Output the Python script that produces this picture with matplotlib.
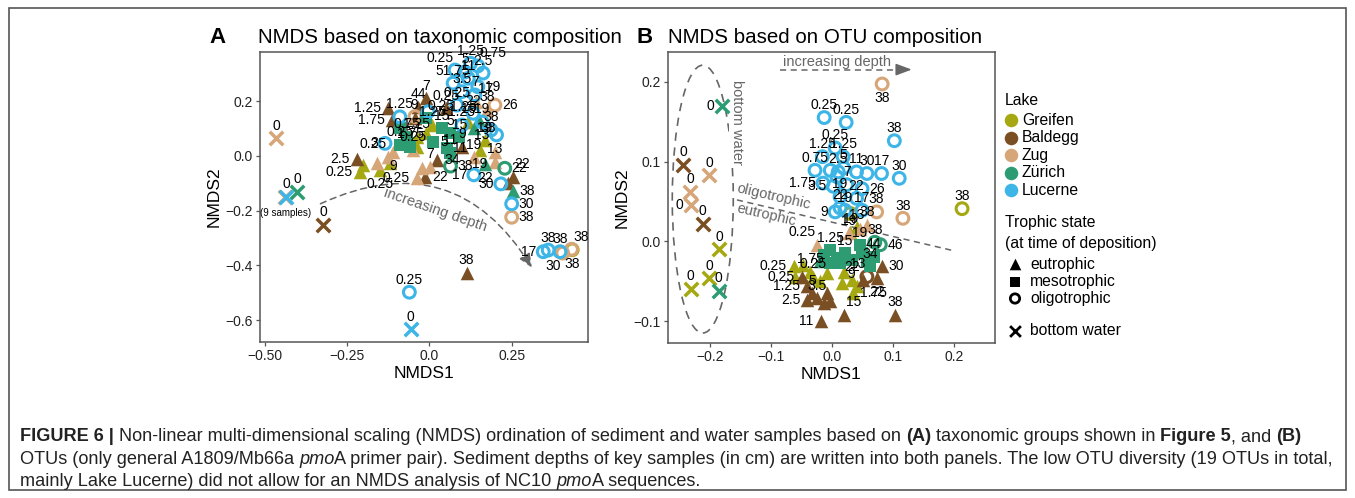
import matplotlib
matplotlib.use('Agg')
import matplotlib.pyplot as plt
from matplotlib.patches import Ellipse, FancyArrowPatch, Rectangle

plt.rcParams['font.family'] = ['Liberation Sans', 'DejaVu Sans']

W, H = 1355, 498

lake_names = ['Greifen', 'Baldegg', 'Zug', 'Zürich', 'Lucerne']
lake_colors = ['#A6A812', '#7A4F24', '#D6A679', '#2E9C72', '#3DB5E6']

# each point: trophic state (e/m/o, w = bottom water), NMDS1, NMDS2, depth label, label side
a_greifen = [
    ('e', -0.201, -0.033, '', 't'), ('e', -0.211, -0.057, '0.25', 'l'),
    ('e', -0.150, -0.051, '0.25', 'b'), ('e', -0.120, -0.026, '', 't'),
    ('e', -0.039, 0.071, '1.25', 't'), ('e', -0.009, 0.083, '', 't'),
    ('e', 0.008, 0.113, '1.25', 't'), ('e', 0.118, 0.125, '19', 't'),
    ('e', 0.169, 0.058, '19', 't'), ('e', 0.154, 0.022, '19', 'b'),
    ('e', -0.039, 0.034, '', 't'), ('o', 0.434, -0.343, '38', 'b'),
]
a_baldegg = [
    ('w', -0.323, -0.252, '0', 't'), ('e', 0.113, -0.427, '38', 't'),
    ('e', -0.221, -0.012, '2.5', 'l'), ('e', -0.115, 0.132, '1.75', 'l'),
    ('e', -0.126, 0.175, '1.25', 'l'), ('e', -0.009, 0.211, '7', 't'),
    ('e', -0.034, 0.180, '44', 't'), ('e', 0.023, -0.015, '34', 'r'),
    ('e', -0.014, -0.076, '22', 'r'), ('e', 0.100, 0.034, '9', 't'),
    ('e', 0.050, 0.175, '0.25', 't'), ('e', 0.253, -0.076, '22', 'tr'),
    ('e', 0.240, -0.100, '', 't'), ('e', -0.045, 0.140, '9', 't'),
]
a_zug = [
    ('w', -0.466, 0.065, '0', 't'), ('w', -0.440, -0.150, '', 't'),
    ('o', 0.405, -0.355, '30', 'bl'), ('o', 0.432, -0.341, '38', 'tr'),
    ('o', 0.250, -0.224, '38', 'r'), ('o', 0.199, 0.186, '26', 'r'),
    ('o', -0.044, 0.144, '', 't'), ('e', -0.160, -0.024, '', 't'),
    ('e', -0.125, -0.003, '0.25', 'tl'), ('e', -0.111, 0.015, '9', 'b'),
    ('e', -0.049, 0.022, '0.25', 't'), ('e', 0.002, -0.039, '7', 't'),
    ('e', -0.039, -0.082, '0.25', 'l'), ('e', -0.023, -0.044, '', 't'),
    ('e', 0.143, 0.199, '17', 'tr'), ('e', 0.175, 0.168, '38', 't'),
    ('e', 0.135, -0.005, '19', 't'), ('e', 0.199, -0.021, '13', 't'),
    ('e', 0.200, 0.015, '', 't'),
]
a_zurich = [
    ('w', -0.402, -0.130, '0', 't'), ('m', -0.090, 0.101, '', 't'),
    ('m', -0.069, 0.071, '0.75', 't'), ('m', -0.090, 0.040, '0.25', 't'),
    ('m', -0.059, 0.034, '1.75', 't'), ('m', -0.009, 0.138, '0.25', 'tr'),
    ('m', 0.012, 0.052, '5', 'r'), ('m', 0.052, 0.028, '11', 'r'),
    ('m', 0.062, 0.083, '5', 't'), ('m', 0.091, 0.068, '15', 't'),
    ('m', 0.062, 0.012, '11', 't'), ('m', 0.038, 0.102, '15', 't'),
    ('o', 0.064, -0.037, '38', 'r'), ('e', 0.135, 0.101, '38', 'r'),
    ('e', 0.169, -0.029, '22', 'b'), ('o', 0.229, -0.045, '22', 'r'),
    ('e', 0.253, -0.127, '38', 'r'), ('e', 0.150, 0.132, '1.25', 'tl'),
]
a_lucerne = [
    ('w', -0.436, -0.149, '0', 't'), ('o', -0.061, -0.498, '0.25', 't'),
    ('w', -0.057, -0.634, '0', 't'), ('o', 0.346, -0.350, '17', 'l'),
    ('o', 0.361, -0.344, '38', 't'), ('o', 0.397, -0.350, '38', 't'),
    ('o', 0.250, -0.175, '30', 'r'), ('o', 0.217, -0.102, '30', 'l'),
    ('o', 0.135, -0.069, '17', 'l'), ('o', 0.204, 0.077, '13', 'l'),
    ('o', 0.187, 0.095, '38', 't'), ('o', -0.135, 0.046, '3', 'l'),
    ('o', -0.090, 0.143, '1.25', 't'), ('o', -0.004, 0.162, '7', 'r'),
    ('o', 0.125, 0.339, '1.25', 't'), ('o', 0.147, 0.329, '0.75', 'tr'),
    ('o', 0.078, 0.314, '0.25', 'tl'), ('o', 0.108, 0.307, '5', 't'),
    ('o', 0.163, 0.303, '2.5', 't'), ('o', 0.072, 0.266, '51.75', 't'),
    ('o', 0.118, 0.284, '11', 't'), ('o', 0.147, 0.253, '19', 'r'),
    ('o', 0.098, 0.235, '3.5', 't'), ('o', 0.138, 0.223, '7', 't'),
    ('o', 0.083, 0.186, '0.25', 't'), ('o', 0.133, 0.156, '22', 't'),
    ('o', 0.099, 0.113, '1.25', 't'), ('o', 0.160, 0.124, '19', 't'),
]

b_greifen = [
    ('w', -0.185, -0.010, '0', 't'), ('w', -0.201, -0.046, '0', 't'),
    ('w', -0.232, -0.059, '0', 't'), ('o', 0.213, 0.041, '38', 't'),
    ('o', 0.030, 0.035, '', 't'), ('e', 0.040, 0.018, '13', 't'),
    ('e', -0.063, -0.031, '0.25', 'l'), ('e', -0.047, -0.029, '', 't'),
    ('e', -0.036, -0.038, '1.75', 't'), ('e', -0.061, -0.044, '', 't'),
    ('e', -0.031, -0.044, '0.25', 't'), ('e', -0.009, -0.040, '', 't'),
    ('e', 0.019, -0.038, '', 't'), ('e', 0.032, -0.048, '22', 't'),
    ('e', 0.040, -0.056, '', 't'), ('e', 0.016, -0.052, '', 't'),
    ('e', -0.020, -0.050, '', 't'), ('e', 0.035, -0.065, '1.75', 'r'),
    ('e', 0.030, 0.012, '19', 't'),
]
b_baldegg = [
    ('w', -0.244, 0.096, '0', 't'), ('w', -0.212, 0.022, '0', 't'),
    ('e', -0.050, -0.044, '0.25', 'l'), ('e', -0.041, -0.056, '1.25', 'l'),
    ('e', -0.033, -0.065, '5', 't'), ('e', -0.041, -0.073, '2.5', 'l'),
    ('e', -0.025, -0.071, '3.5', 't'), ('e', -0.009, -0.065, '', 't'),
    ('e', -0.003, -0.075, '', 't'), ('e', -0.014, -0.077, '', 't'),
    ('e', -0.019, -0.099, '11', 'l'), ('e', 0.020, -0.092, '15', 'tr'),
    ('e', 0.051, -0.048, '', 't'), ('e', 0.074, -0.046, '22', 'b'),
    ('e', 0.081, -0.031, '30', 'r'), ('e', 0.103, -0.092, '38', 't'),
    ('o', 0.057, -0.044, '13', 'tl'),
]
b_zug = [
    ('w', -0.201, 0.083, '0', 't'), ('w', -0.233, 0.062, '0', 't'),
    ('w', -0.232, 0.045, '0', 'l'), ('o', 0.082, 0.197, '38', 'b'),
    ('o', 0.073, 0.037, '38', 't'), ('o', 0.116, 0.029, '38', 't'),
    ('e', 0.057, 0.021, '38', 't'), ('e', 0.027, 0.010, '19', 't'),
    ('e', -0.025, -0.004, '0.25', 'tl'), ('e', 0.045, 0.015, '', 't'),
]
b_zurich = [
    ('w', -0.181, 0.169, '0', 'l'), ('w', -0.186, -0.062, '0', 't'),
    ('o', 0.079, -0.004, '46', 'r'), ('o', 0.070, -0.001, '38', 't'),
    ('m', -0.014, -0.017, '', 't'), ('m', -0.003, -0.011, '1.25', 't'),
    ('m', 0.008, -0.021, '', 't'), ('m', 0.021, -0.015, '15', 't'),
    ('m', 0.032, -0.023, '9', 'b'), ('m', 0.049, -0.015, '', 't'),
    ('m', 0.057, -0.025, '', 't'), ('m', 0.062, -0.031, '34', 't'),
    ('m', -0.003, -0.027, '', 't'), ('m', 0.013, -0.027, '', 't'),
    ('m', 0.068, -0.019, '44', 't'), ('m', 0.045, -0.005, '19', 't'),
    ('e', -0.020, -0.025, '', 't'),
]
b_lucerne = [
    ('o', -0.013, 0.155, '0.25', 't'), ('o', 0.023, 0.149, '0.25', 't'),
    ('o', 0.102, 0.126, '38', 't'), ('o', 0.110, 0.079, '30', 't'),
    ('o', 0.081, 0.085, '17', 't'), ('o', 0.005, 0.117, '0.25', 't'),
    ('o', -0.016, 0.106, '1.25', 't'), ('o', 0.018, 0.106, '1.25', 't'),
    ('o', -0.028, 0.089, '0.75', 't'), ('o', 0.010, 0.087, '2.5', 't'),
    ('o', -0.003, 0.089, '', 't'), ('o', 0.019, 0.092, '5', 't'),
    ('o', 0.040, 0.087, '11', 't'), ('o', 0.057, 0.085, '30', 't'),
    ('o', -0.015, 0.073, '1.75', 'l'), ('o', 0.008, 0.081, '', 't'),
    ('o', 0.002, 0.069, '3.5', 'l'), ('o', 0.024, 0.071, '7', 't'),
    ('o', 0.013, 0.056, '19', 't'), ('o', 0.049, 0.066, '26', 'r'),
    ('o', 0.040, 0.054, '22', 't'), ('o', 0.013, 0.042, '22', 't'),
    ('o', 0.005, 0.037, '9', 'l'), ('o', 0.021, 0.039, '19', 't'),
    ('o', 0.049, 0.039, '17', 't'),
]

panel_a = [a_greifen, a_baldegg, a_zug, a_zurich, a_lucerne]
panel_b = [b_greifen, b_baldegg, b_zug, b_zurich, b_lucerne]

a_xticks = [-0.5, -0.25, 0.0, 0.25]
a_xlabels = ['\u22120.50', '\u22120.25', '0.0', '0.25']
a_yticks = [0.2, 0.0, -0.2, -0.4, -0.6]
a_ylabels = ['0.2', '0.0', '\u22120.2', '\u22120.4', '\u22120.6']
b_xticks = [-0.2, -0.1, 0.0, 0.1, 0.2]
b_xlabels = ['\u22120.2', '\u22120.1', '0.0', '0.1', '0.2']
b_yticks = [0.2, 0.1, 0.0, -0.1]
b_ylabels = ['0.2', '0.1', '0.0', '\u22120.1']

OFFS = {'t': (0, 4, 'center', 'bottom'), 'b': (0, -5, 'center', 'top'),
        'l': (-5, 0, 'right', 'center'), 'r': (5, 0, 'left', 'center'),
        'tl': (-1, 4, 'right', 'bottom'), 'tr': (1, 4, 'left', 'bottom'),
        'bl': (-1, -4, 'right', 'top')}
GREY = '#666666'


def draw_panel(ax, groups):
    for pts, col in zip(groups, lake_colors):
        for st, x, y, lab, side in pts:
            if st == 'o':
                ax.scatter([x], [y], marker='o', s=72, facecolors='none',
                           edgecolors=col, linewidths=2.2, zorder=3)
            elif st == 'w':
                ax.scatter([x], [y], marker='x', s=95, color=col,
                           linewidths=2.5, zorder=3)
            elif st == 'm':
                ax.scatter([x], [y], marker='s', s=70, color=col,
                           linewidths=0, zorder=3)
            else:
                ax.scatter([x], [y], marker='^', s=95, color=col,
                           linewidths=0, zorder=3)
    for pts in groups:
        for st, x, y, lab, side in pts:
            if lab:
                dx, dy, ha, va = OFFS[side]
                ax.annotate(lab, (x, y), xytext=(dx, dy), textcoords='offset points',
                            ha=ha, va=va, fontsize=10, zorder=4)


def style_axes(ax, xt, xl, yt, yl):
    for sp in ax.spines.values():
        sp.set_color('#555555')
        sp.set_linewidth(1.1)
    ax.set_xticks(xt)
    ax.set_xticklabels(xl)
    ax.set_yticks(yt)
    ax.set_yticklabels(yl)
    ax.tick_params(length=3, width=0.9, color='#555555', labelsize=10,
                   labelcolor='#222222', pad=2)
    ax.set_xlabel('NMDS1', fontsize=12.5, labelpad=2)
    ax.set_ylabel('NMDS2', fontsize=12.5, labelpad=3)


fig = plt.figure(figsize=(W / 100, H / 100), dpi=100)
ax0 = fig.add_axes([0, 0, 1, 1], zorder=0)
ax0.set_xlim(0, W)
ax0.set_ylim(H, 0)
ax0.axis('off')

# panel A
axA = fig.add_axes([260 / W, 1 - 342 / H, 328 / W, 290 / H], zorder=1)
axA.set_xlim(-0.515, 0.482)
axA.set_ylim(-0.680, 0.380)
draw_panel(axA, panel_a)
style_axes(axA, a_xticks, a_xlabels, a_yticks, a_ylabels)
arc = FancyArrowPatch((-0.339, -0.179), (0.316, -0.417),
                      connectionstyle='arc3,rad=-0.45',
                      arrowstyle='-|>,head_length=0.7,head_width=0.3',
                      mutation_scale=12, color=GREY, lw=1.1,
                      linestyle=(0, (4, 3)), zorder=2)
axA.add_patch(arc)
axA.text(0.017, -0.197, 'increasing depth', rotation=-19, color=GREY,
         fontsize=10.5, ha='center', va='center', zorder=2)
axA.text(-0.436, -0.208, '(9 samples)', fontsize=7, ha='center', va='center', zorder=4)

# panel B
axB = fig.add_axes([668 / W, 1 - 343 / H, 327 / W, 291 / H], zorder=1)
axB.set_xlim(-0.269, 0.267)
axB.set_ylim(-0.127, 0.237)
draw_panel(axB, panel_b)
style_axes(axB, b_xticks, b_xlabels, b_yticks, b_ylabels)
axB.add_patch(Ellipse((-0.212, 0.053), 0.10, 0.335, fill=False, edgecolor=GREY,
                      lw=1.2, linestyle=(0, (5, 4)), zorder=2))
axB.text(-0.156, 0.149, 'bottom water', rotation=-90, color=GREY, fontsize=10.5,
         ha='center', va='center', zorder=2,
         bbox=dict(facecolor='white', edgecolor='none', pad=0.5))
axB.plot([-0.085, 0.120], [0.215, 0.215], color=GREY, lw=1.1,
         linestyle=(0, (4, 3)), zorder=2)
axB.annotate('', xy=(0.135, 0.215), xytext=(0.115, 0.215),
             arrowprops=dict(arrowstyle='-|>,head_length=0.8,head_width=0.3',
                             color=GREY, lw=1.1, mutation_scale=12))
axB.text(0.008, 0.224, 'increasing depth', color=GREY, fontsize=10.5,
         ha='center', va='center', zorder=2)
axB.plot([-0.156, 0.196], [0.052, -0.011], color=GREY, lw=1.1,
         linestyle=(0, (4, 3)), zorder=2)
axB.text(-0.095, 0.056, 'oligotrophic', rotation=-13, color=GREY, fontsize=10.5,
         ha='center', va='center', zorder=2)
axB.text(-0.107, 0.033, 'eutrophic', rotation=-13, color=GREY, fontsize=10.5,
         ha='center', va='center', zorder=2)

# panel letters and titles
ax0.text(218, 43, 'A', fontsize=16, fontweight='bold', ha='center', va='baseline')
ax0.text(258, 43, 'NMDS based on taxonomic composition', fontsize=14.8, ha='left', va='baseline')
ax0.text(645, 43, 'B', fontsize=16, fontweight='bold', ha='center', va='baseline')
ax0.text(668, 43, 'NMDS based on OTU composition', fontsize=14.8, ha='left', va='baseline')

# legend
ax0.text(1005, 100, 'Lake', fontsize=11.3, ha='left', va='center')
for i, (name, col) in enumerate(zip(lake_names, lake_colors)):
    yy = 120 + i * 17.5
    ax0.scatter([1011], [yy], s=95, color=col, linewidths=0)
    ax0.text(1022, yy, name, fontsize=11.3, ha='left', va='center')
ax0.text(1005, 222, 'Trophic state', fontsize=11.3, ha='left', va='center')
ax0.text(1005, 243, '(at time of deposition)', fontsize=11.3, ha='left', va='center')
ax0.scatter([1015], [264], marker='^', s=70, color='black', linewidths=0)
ax0.scatter([1015], [281.5], marker='s', s=45, color='black', linewidths=0)
ax0.scatter([1015], [298.5], marker='o', s=45, facecolors='none', edgecolors='black', linewidths=2)
ax0.scatter([1015], [330.5], marker='x', s=60, color='black', linewidths=2)
for yy, name in zip([264, 281.5, 298.5, 330.5],
                    ['eutrophic', 'mesotrophic', 'oligotrophic', 'bottom water']):
    ax0.text(1030, yy, name, fontsize=11.3, ha='left', va='center')

# outer frame
ax0.add_patch(Rectangle((9, 8), 1337, 482, fill=False, edgecolor='#555555', lw=1.2))

# caption with mixed bold / italic runs
CAP_FONT = ['Liberation Sans Narrow', 'Liberation Sans']
cap1 = [('FIGURE 6 |', 'bold', 'normal'),
        (' Non-linear multi-dimensional scaling (NMDS) ordination of sediment and water samples based on ', 'normal', 'normal'),
        ('(A)', 'bold', 'normal'), (' taxonomic groups shown in ', 'normal', 'normal'),
        ('Figure 5', 'bold', 'normal'), (', and ', 'normal', 'normal'), ('(B)', 'bold', 'normal')]
cap2 = [('OTUs (only general A1809/Mb66a ', 'normal', 'normal'), ('pmo', 'normal', 'italic'),
        ('A primer pair). Sediment depths of key samples (in cm) are written into both panels. '
         'The low OTU diversity (19 OTUs in total,', 'normal', 'normal')]
cap3 = [('mainly Lake Lucerne) did not allow for an NMDS analysis of NC10 ', 'normal', 'normal'),
        ('pmo', 'normal', 'italic'), ('A sequences.', 'normal', 'normal')]

rend = fig.canvas.get_renderer()


def put_runs(x, y, runs, size):
    arts = []
    t1 = ax0.text(0, 0, 'a a', fontsize=size, family=CAP_FONT)
    t2 = ax0.text(0, 0, 'aa', fontsize=size, family=CAP_FONT)
    sw = t1.get_window_extent(rend).width - t2.get_window_extent(rend).width
    t1.remove()
    t2.remove()
    for text, weight, style in runs:
        if text.startswith(' '):
            x += sw
        t = ax0.text(x, y, text.strip(' '), fontsize=size, fontweight=weight,
                     fontstyle=style, family=CAP_FONT, ha='left', va='baseline',
                     color='#222222')
        x += t.get_window_extent(rend).width
        if text.endswith(' '):
            x += sw
        arts.append(t)
    return arts, x


arts, xend = put_runs(20, 465, cap2, 12)
cap_size = 12 * (1333 - 20) / (xend - 20)
for a in arts:
    a.remove()
put_runs(20, 441, cap1, cap_size)
put_runs(20, 464, cap2, cap_size)
put_runs(20, 486, cap3, cap_size)

fig.savefig('out.png', dpi=100)
